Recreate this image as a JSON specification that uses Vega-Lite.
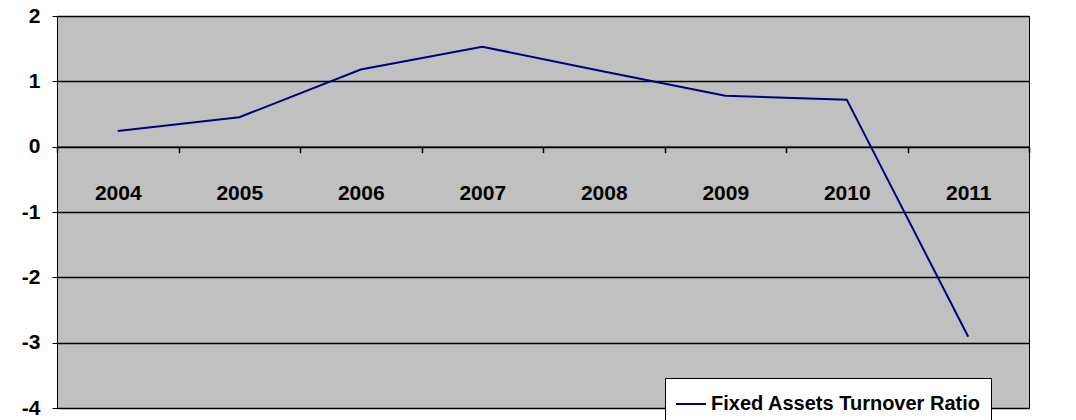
{
  "$schema": "https://vega.github.io/schema/vega-lite/v6.json",
  "width": 972,
  "height": 392,
  "autosize": {"type": "none"},
  "padding": {"left": 57, "top": 16, "right": 47, "bottom": 12},
  "background": "white",
  "config": {
    "view": {"fill": "#C0C0C0", "stroke": "#000000", "strokeWidth": 1},
    "font": "Liberation Sans"
  },
  "data": {
    "values": [
      {"year": "2004", "value": 0.24, "series": "Fixed Assets Turnover Ratio"},
      {"year": "2005", "value": 0.45, "series": "Fixed Assets Turnover Ratio"},
      {"year": "2006", "value": 1.18, "series": "Fixed Assets Turnover Ratio"},
      {"year": "2007", "value": 1.53, "series": "Fixed Assets Turnover Ratio"},
      {"year": "2008", "value": 1.15, "series": "Fixed Assets Turnover Ratio"},
      {"year": "2009", "value": 0.78, "series": "Fixed Assets Turnover Ratio"},
      {"year": "2010", "value": 0.72, "series": "Fixed Assets Turnover Ratio"},
      {"year": "2011", "value": -2.91, "series": "Fixed Assets Turnover Ratio"}
    ]
  },
  "mark": {"type": "line", "strokeWidth": 2},
  "encoding": {
    "x": {
      "field": "year", "type": "ordinal", "title": null,
      "scale": {"type": "band", "paddingInner": 0, "paddingOuter": 0},
      "axis": {
        "offset": -261.3, "domainColor": "#000", "domainWidth": 1.5,
        "tickColor": "#000", "tickSize": 6, "tickBand": "extent", "tickWidth": 1.5,
        "labelAngle": 0, "labelFontWeight": "bold", "labelFontSize": 21,
        "labelColor": "#000", "labelPadding": 30, "grid": false
      }
    },
    "y": {
      "field": "value", "type": "quantitative", "title": null,
      "scale": {"domain": [-4, 2], "nice": false},
      "axis": {
        "values": [-4, -3, -2, -1, 0, 1, 2], "grid": true, "gridColor": "#000",
        "gridWidth": 1.5, "domainColor": "#000", "tickColor": "#000",
        "tickSize": 5, "labelFontWeight": "bold", "labelFontSize": 21,
        "labelColor": "#000", "labelPadding": 12,
        "labelExpr": "replace(datum.label, '\u2212', '-')"
      }
    },
    "color": {
      "field": "series", "type": "nominal", "title": null,
      "scale": {"range": ["#000080"]},
      "legend": {
        "orient": "none", "legendX": 608, "legendY": 362,
        "fillColor": "white", "strokeColor": "#000", "padding": 10,
        "symbolType": "stroke", "symbolSize": 900, "symbolStrokeWidth": 2,
        "labelFontSize": 20, "labelFontWeight": "bold", "labelColor": "#000",
        "labelLimit": 400
      }
    }
  }
}
